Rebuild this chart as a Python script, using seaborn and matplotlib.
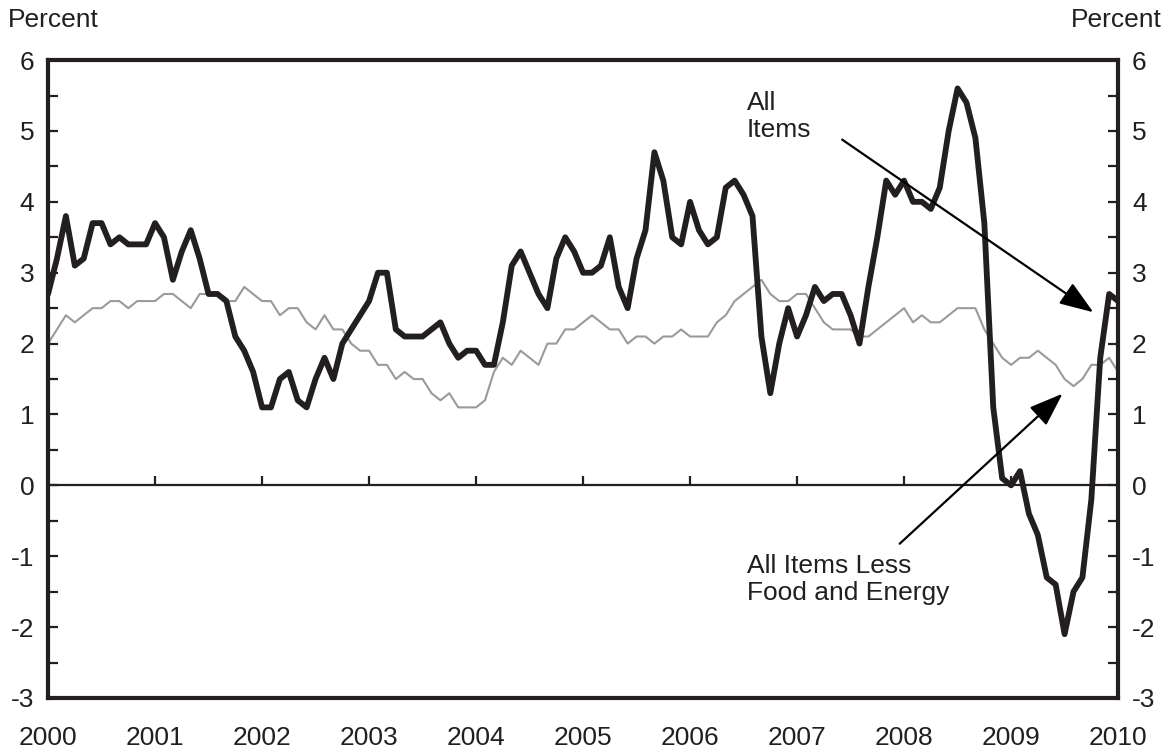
import numpy as np
import pandas as pd
import matplotlib
matplotlib.use("Agg")
import matplotlib.pyplot as plt
import seaborn as sns

# 12-month percent change, monthly, Jan 2000 - Jan 2010
all_items = [
    2.7, 3.2, 3.8, 3.1, 3.2, 3.7, 3.7, 3.4, 3.5, 3.4, 3.4, 3.4,
    3.7, 3.5, 2.9, 3.3, 3.6, 3.2, 2.7, 2.7, 2.6, 2.1, 1.9, 1.6,
    1.1, 1.1, 1.5, 1.6, 1.2, 1.1, 1.5, 1.8, 1.5, 2.0, 2.2, 2.4,
    2.6, 3.0, 3.0, 2.2, 2.1, 2.1, 2.1, 2.2, 2.3, 2.0, 1.8, 1.9,
    1.9, 1.7, 1.7, 2.3, 3.1, 3.3, 3.0, 2.7, 2.5, 3.2, 3.5, 3.3,
    3.0, 3.0, 3.1, 3.5, 2.8, 2.5, 3.2, 3.6, 4.7, 4.3, 3.5, 3.4,
    4.0, 3.6, 3.4, 3.5, 4.2, 4.3, 4.1, 3.8, 2.1, 1.3, 2.0, 2.5,
    2.1, 2.4, 2.8, 2.6, 2.7, 2.7, 2.4, 2.0, 2.8, 3.5, 4.3, 4.1,
    4.3, 4.0, 4.0, 3.9, 4.2, 5.0, 5.6, 5.4, 4.9, 3.7, 1.1, 0.1,
    0.0, 0.2, -0.4, -0.7, -1.3, -1.4, -2.1, -1.5, -1.3, -0.2, 1.8, 2.7,
    2.6,
]
core = [
    2.0, 2.2, 2.4, 2.3, 2.4, 2.5, 2.5, 2.6, 2.6, 2.5, 2.6, 2.6,
    2.6, 2.7, 2.7, 2.6, 2.5, 2.7, 2.7, 2.7, 2.6, 2.6, 2.8, 2.7,
    2.6, 2.6, 2.4, 2.5, 2.5, 2.3, 2.2, 2.4, 2.2, 2.2, 2.0, 1.9,
    1.9, 1.7, 1.7, 1.5, 1.6, 1.5, 1.5, 1.3, 1.2, 1.3, 1.1, 1.1,
    1.1, 1.2, 1.6, 1.8, 1.7, 1.9, 1.8, 1.7, 2.0, 2.0, 2.2, 2.2,
    2.3, 2.4, 2.3, 2.2, 2.2, 2.0, 2.1, 2.1, 2.0, 2.1, 2.1, 2.2,
    2.1, 2.1, 2.1, 2.3, 2.4, 2.6, 2.7, 2.8, 2.9, 2.7, 2.6, 2.6,
    2.7, 2.7, 2.5, 2.3, 2.2, 2.2, 2.2, 2.1, 2.1, 2.2, 2.3, 2.4,
    2.5, 2.3, 2.4, 2.3, 2.3, 2.4, 2.5, 2.5, 2.5, 2.2, 2.0, 1.8,
    1.7, 1.8, 1.8, 1.9, 1.8, 1.7, 1.5, 1.4, 1.5, 1.7, 1.7, 1.8,
    1.6,
]
years = list(range(2000, 2011))

dark = "#231f20"
fs = 19
df = pd.DataFrame({
    "t": 2000 + np.arange(len(all_items)) / 12,
    "all": all_items,
    "core": core,
})

sns.set_style("white")
plt.rcParams["font.family"] = ["Liberation Sans", "DejaVu Sans"]
plt.rcParams["font.size"] = fs
plt.rcParams["axes.unicode_minus"] = False

fig = plt.figure(figsize=(11.72, 7.54), dpi=100)
ax = fig.add_axes([0.041, 0.0743, 0.913, 0.846])

# zero line with year ticks on it
ax.axhline(0, color=dark, lw=1.6, zorder=1)
ax.vlines(years[1:-1], 0, 0.13, color=dark, lw=1.6, zorder=1)

sns.lineplot(data=df, x="t", y="core", ax=ax, color="#9a9a9a", lw=1.5, zorder=2)
sns.lineplot(data=df, x="t", y="all", ax=ax, color=dark, lw=4.2, zorder=3)

ax.set_xlim(2000, 2010)
ax.set_ylim(-3, 6)
ax.set_xlabel("")
ax.set_ylabel("")
ax.set_xticks(years)
ax.set_xticklabels([str(y) for y in years])
ax.tick_params(axis="x", length=0, pad=20, labelsize=fs, colors=dark)
ax.set_yticks(range(-3, 7))
ax.set_yticks(np.arange(-2.5, 6, 1), minor=True)
ax.tick_params(axis="y", which="both", direction="in", length=7, width=1.6,
               left=True, right=True, labelleft=True, labelright=True,
               labelsize=fs, colors=dark, pad=10)
for s in ax.spines.values():
    s.set_color(dark)
    s.set_linewidth(3)

fig.text(0.007, 0.973, "Percent", ha="left", va="center", fontsize=fs, color=dark)
fig.text(0.991, 0.973, "Percent", ha="right", va="center", fontsize=fs, color=dark)

arrow = dict(arrowstyle="-|>,head_length=1.1,head_width=0.4", color="black", lw=1.6)
ax.annotate("", xy=(2009.79, 2.42), xytext=(2007.4, 4.9), arrowprops=arrow)
ax.text(2006.53, 5.2, "All\nItems", ha="left", va="center", fontsize=fs,
        color=dark, linespacing=1.15)
ax.annotate("", xy=(2009.5, 1.32), xytext=(2007.94, -0.85), arrowprops=arrow)
ax.text(2006.53, -1.33, "All Items Less\nFood and Energy", ha="left", va="center",
        fontsize=fs, color=dark, linespacing=1.15)

fig.savefig("out.png", dpi=100)
